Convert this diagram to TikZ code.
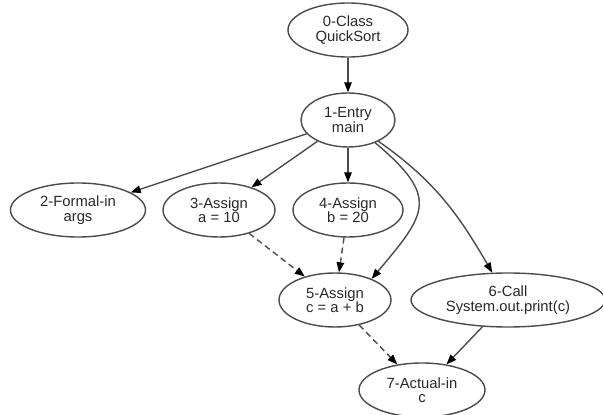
\documentclass[tikz,border=0pt]{standalone}
\usepackage{fontspec}
\setmainfont{Liberation Sans}
\usetikzlibrary{shapes.geometric}
\usetikzlibrary{arrows.meta}

\definecolor{edgegray}{RGB}{75,75,75}
\definecolor{textgray}{RGB}{40,40,40}

\begin{document}
\begin{tikzpicture}[x=1pt,y=1pt]
\useasboundingbox (0,0) rectangle (603,415);
\begin{scope}[every node/.style={ellipse,draw=edgegray,line width=1.4pt,
              inner sep=0pt,minimum height=54pt,align=center,text=textgray,
              font=\fontsize{14.8}{14.5}\selectfont}]
    \node (Class) [minimum width=120pt] at (348, 385) {0-Class\\QuickSort};
    \node (Entry) [minimum width=94pt] at (348, 295) {1-Entry\\main};
    \node (Formal) [minimum width=135pt] at (78, 205) {2-Formal-in\\args};
    \node (AssignA) [minimum width=112pt] at (219, 205) {3-Assign\\a = 10};
    \node (AssignB) [minimum width=110pt] at (348, 205) {4-Assign\\b = 20};
    \node (AssignC) [minimum width=112pt] at (335, 115) {5-Assign\\c = a + b};
    \node (Call) [minimum width=194pt] at (508, 115) {6-Call\\System.out.print(c)};
    \node (Actual) [minimum width=126pt] at (422, 25) {7-Actual-in\\c};
\end{scope}
\begin{scope}[>={Triangle[black,length=10pt,width=7.5pt]},
              ctrl_edge/.style={draw=edgegray,line width=1.4pt},
              data_edge/.style={draw=edgegray,line width=1.4pt,dash pattern=on 6pt off 4pt}]
    \path [->] (Class) edge [ctrl_edge] (Entry);
    \path [->] (Entry) edge [ctrl_edge] (Formal);
    \path [->] (Entry) edge [ctrl_edge] (AssignA);
    \path [->] (Entry) edge [ctrl_edge] (AssignB);
    \path [->] (Entry) edge [ctrl_edge,out=-40,in=50,looseness=1.6] (AssignC.30);
    \path [->] (Entry) edge [ctrl_edge,out=-35,in=120] (Call);
    \path [->] (AssignA) edge [data_edge] (AssignC);
    \path [->] (AssignB) edge [data_edge] (AssignC);
    \path [->] (AssignC) edge [data_edge] (Actual);
    \path [->] (Call) edge [ctrl_edge] (Actual);
\end{scope}
\end{tikzpicture}
\end{document}
